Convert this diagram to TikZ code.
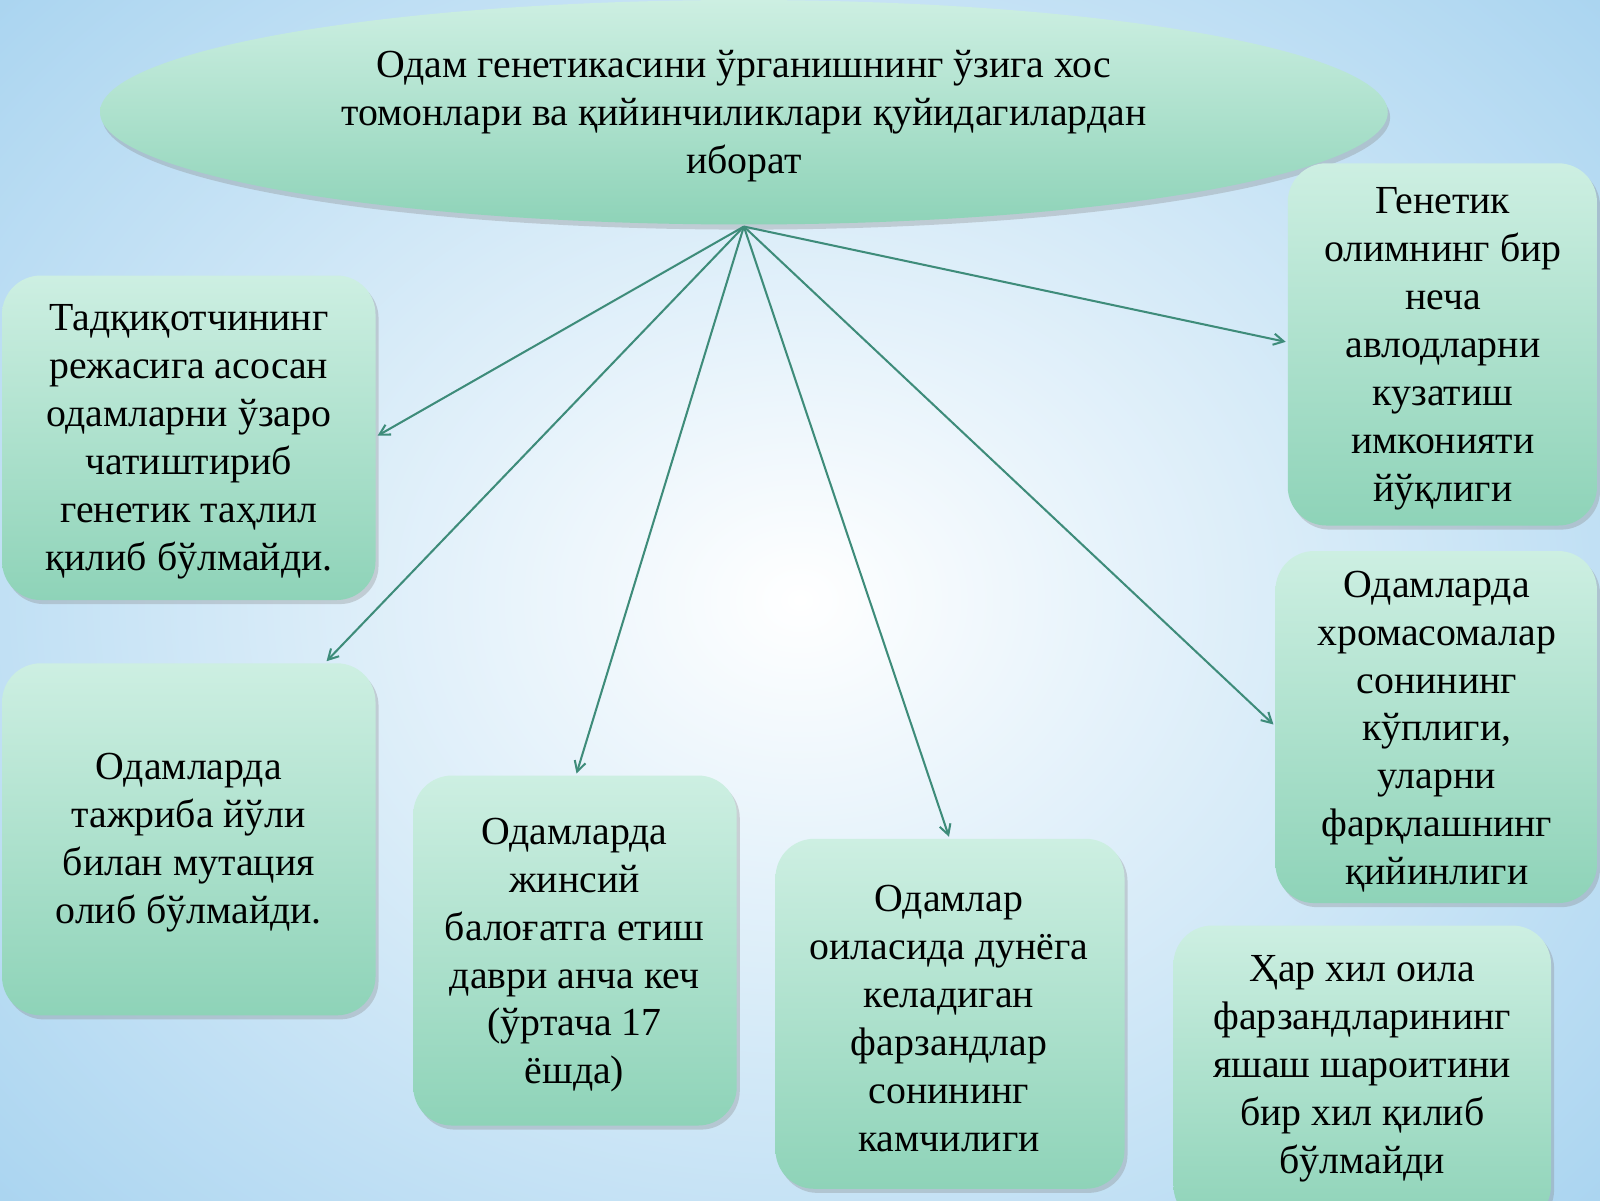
\documentclass[tikz,border=0pt]{standalone}
\usepackage{fontspec}
\setmainfont{Liberation Serif}
\usetikzlibrary{shadows,arrows.meta}
\definecolor{bgblue}{HTML}{A9D4F0}
\definecolor{boxtop}{HTML}{CDEFE2}
\definecolor{boxbot}{HTML}{8ED3B8}
\definecolor{arr}{HTML}{3E8C7A}
\begin{document}
\begin{tikzpicture}[x=1pt,y=-1pt,
  box/.style={rounded corners=38pt,top color=boxtop,bottom color=boxbot,draw=none,
    drop shadow={opacity=0.3,shadow xshift=3pt,shadow yshift=-4pt}},
  txt/.style={font=\fontsize{39}{47}\selectfont,align=center},
  ar/.style={draw=arr,line width=2pt,-{Straight Barb[length=10pt,width=11pt]}}]
\useasboundingbox (0,0) rectangle (1568,1176);
\shade[inner color=white,outer color=bgblue] (-300,-300) rectangle (1868,1476);
\shade[top color=boxtop,bottom color=boxbot,drop shadow={opacity=0.3,shadow yshift=-5pt}] (729,110) ellipse [x radius=631,y radius=110];
\node[txt] (top) at (729,114) {Одам генетикасини ўрганишнинг ўзига хос\\томонлари ва қийинчиликлари қуйидагилардан\\иборат};
\coordinate (o) at (729,222);
\path[box] (2,270) rectangle (368,588);
\node[txt] (b1) at (185,433) {Тадқиқотчининг\\режасига асосан\\одамларни ўзаро\\чатиштириб\\генетик таҳлил\\қилиб бўлмайди.};
\path[box] (2,650) rectangle (368,995);
\node[txt] (b2) at (185,826) {Одамларда\\тажриба йўли\\билан мутация\\олиб бўлмайди.};
\path[box] (405,760) rectangle (722,1103);
\node[txt] (b3) at (563,936) {Одамларда\\жинсий\\балоғатга етиш\\даври анча кеч\\(ўртача 17\\ёшда)};
\path[box] (760,822) rectangle (1102,1165);
\node[txt] (b4) at (930,998) {Одамлар\\оиласида дунёга\\келадиган\\фарзандлар\\сонининг\\камчилиги};
\path[box] (1150,907) rectangle (1520,1200);
\node[txt] (b5) at (1335,1047) {Ҳар хил оила\\фарзандларининг\\яшаш шароитини\\бир хил қилиб\\бўлмайди};
\path[box] (1250,540) rectangle (1565,885);
\node[txt] (b6) at (1408,717) {Одамларда\\хромасомалар\\сонининг\\кўплиги,\\уларни\\фарқлашнинг\\қийинлиги};
\path[box] (1262,160) rectangle (1565,515);
\node[txt] (b7) at (1414,342) {Генетик\\олимнинг бир\\неча\\авлодларни\\кузатиш\\имконияти\\йўқлиги};
\coordinate (e1) at (370,427); \coordinate (e2) at (320,648);
\coordinate (e3) at (565,758); \coordinate (e4) at (930,820);
\coordinate (e6) at (1248,710); \coordinate (e7) at (1260,335);
\foreach \e in {e1,e2,e3,e4,e6,e7} \draw[ar] (o) -- (\e);
\end{tikzpicture}
\end{document}
